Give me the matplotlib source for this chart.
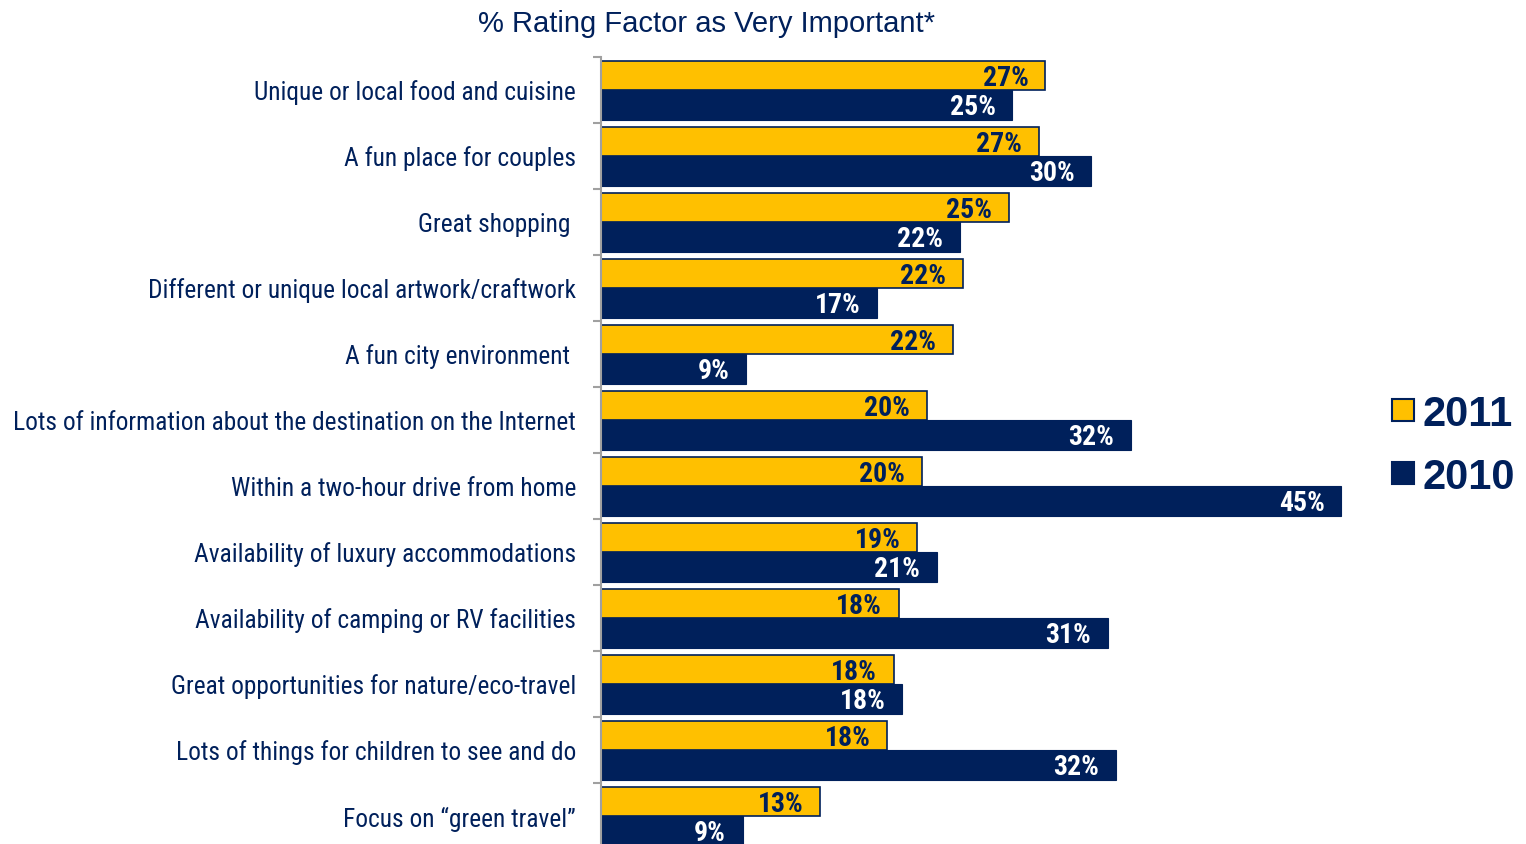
import numpy as np
import matplotlib
matplotlib.use("Agg")
import matplotlib.pyplot as plt
from matplotlib.patches import Rectangle
from matplotlib import font_manager

# ------------------ data ------------------
factors = [
    "Unique or local food and cuisine",
    "A fun place for couples",
    "Great shopping ",
    "Different or unique local artwork/craftwork",
    "A fun city environment ",
    "Lots of information about the destination on the Internet",
    "Within a two-hour drive from home",
    "Availability of luxury accommodations",
    "Availability of camping or RV facilities",
    "Great opportunities for nature/eco-travel",
    "Lots of things for children to see and do",
    "Focus on \u201cgreen travel\u201d",
]
vals_2011 = [27.0, 26.6, 24.8, 22.0, 21.4, 19.8, 19.5, 19.2, 18.1, 17.8, 17.4, 13.3]
vals_2010 = [25.0, 29.8, 21.8, 16.8, 8.8, 32.2, 45.0, 20.4, 30.8, 18.3, 31.3, 8.6]
labels_2011 = ["27%", "27%", "25%", "22%", "22%", "20%", "20%", "19%", "18%", "18%", "18%", "13%"]
labels_2010 = ["25%", "30%", "22%", "17%", "9%", "32%", "45%", "21%", "31%", "18%", "32%", "9%"]
# --------------------------------------------------------------

yellow = "#FFC000"
navy = "#00205B"

names = [f.name for f in font_manager.fontManager.ttflist]
narrow = "Liberation Sans Narrow" if "Liberation Sans Narrow" in names else "Roboto Condensed"
fam_narrow = [narrow, "DejaVu Sans"]
fam_arial = ["Liberation Sans", "DejaVu Sans"]

W, H = 1526, 845
fig = plt.figure(figsize=(W / 100, H / 100), dpi=100)
ax = fig.add_axes([601 / W, (H - 849.5) / H, 905 / W, 792 / H])

n = len(factors)
y = np.arange(n)
h = 0.44
off = 0.015  # bars sit a touch low in each group
ax.barh(y - 0.22 + off, vals_2011, height=h, color=yellow, edgecolor=navy, linewidth=1.2, zorder=2)
ax.barh(y + 0.22 + off, vals_2010, height=h, color=navy, edgecolor=navy, linewidth=0.8, zorder=2)

for i in range(n):
    ax.annotate(labels_2011[i], (vals_2011[i], y[i] - 0.22 + off), xytext=(-12, -1), textcoords="offset points",
                ha="right", va="center", fontsize=20, fontweight="bold", color=navy, family=fam_narrow)
    ax.annotate(labels_2010[i], (vals_2010[i], y[i] + 0.22 + off), xytext=(-12, -1), textcoords="offset points",
                ha="right", va="center", fontsize=20, fontweight="bold", color="white", family=fam_narrow)

ax.set_xlim(0, 55)
ax.set_ylim(n - 0.5, -0.5)
for s in ["top", "right", "bottom"]:
    ax.spines[s].set_visible(False)
ax.spines["left"].set_color("#A0A0A0")
ax.spines["left"].set_linewidth(1.5)
ax.set_xticks([])
ax.set_yticks(y)
ax.set_yticklabels(factors, family=fam_narrow, fontsize=18.3, color=navy)
ax.tick_params(axis="y", which="major", length=0, pad=18)
ax.set_yticks(np.arange(n + 1) - 0.5, minor=True)
ax.tick_params(axis="y", which="minor", length=6, width=1.5, color="#A0A0A0")

fig.text(706 / W, 1 - 24 / H, "% Rating Factor as Very Important*", ha="center", va="center",
         fontsize=21, color=navy, family=fam_arial)

# legend
for yy, col, lab in [(411, yellow, "2011"), (474, navy, "2010")]:
    fig.patches.append(Rectangle((1392 / W, 1 - (yy + 11) / H), 22 / W, 22 / H, transform=fig.transFigure,
                                 facecolor=col, edgecolor=navy, linewidth=1.5))
    fig.text(1423 / W, 1 - (yy + 4) / H, lab, ha="left", va="center", fontsize=30, fontweight="bold",
             color=navy, family=fam_arial)

fig.savefig("out.png", dpi=100)
